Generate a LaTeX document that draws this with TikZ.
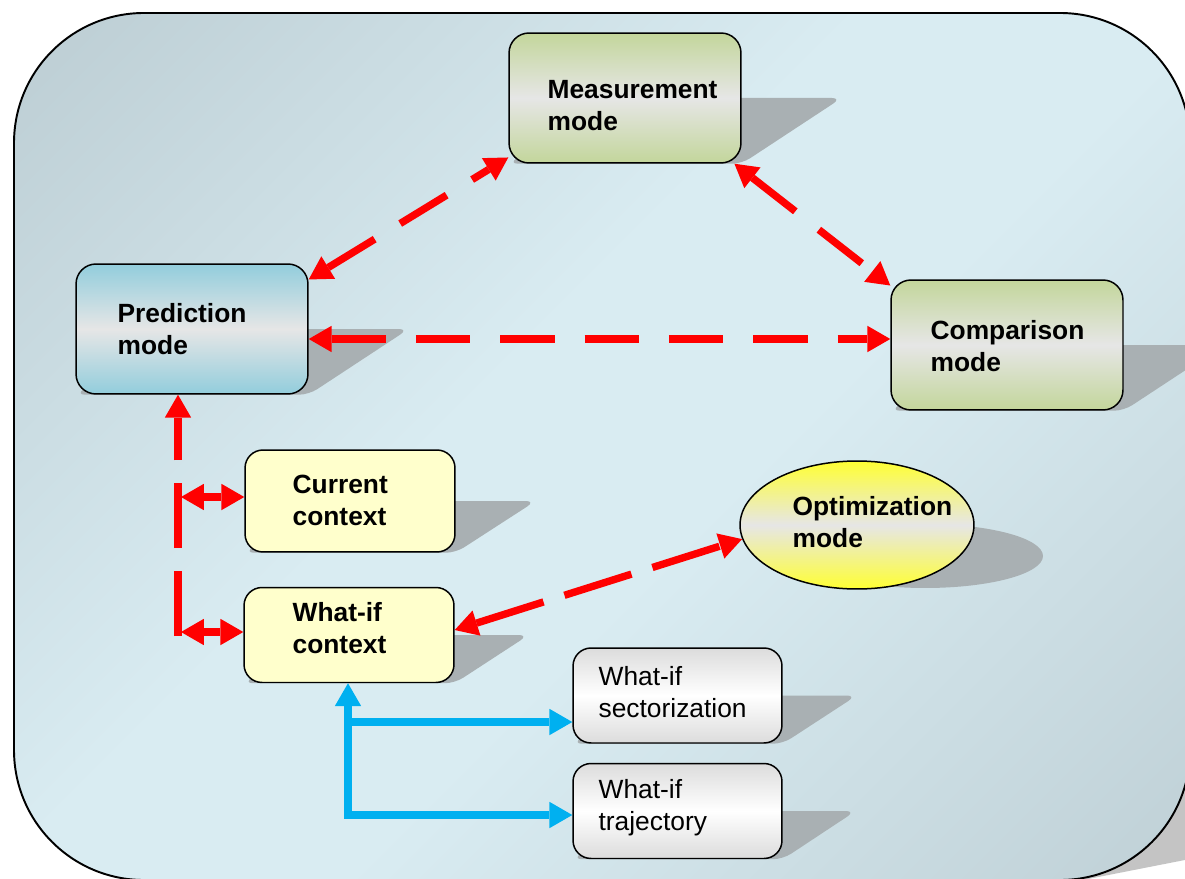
\documentclass[tikz,border=0pt]{standalone}
\usepackage{fontspec}
\setmainfont{Liberation Sans}
\usetikzlibrary{arrows.meta,shapes.geometric,calc}

\pgfdeclarelayer{panel}
\pgfdeclarelayer{shade}
\pgfsetlayers{panel,shade,main}

\definecolor{arrowred}{HTML}{FF0000}
\definecolor{arrowblue}{HTML}{00B0F0}
\definecolor{shadowgray}{RGB}{169,176,179}
\definecolor{framegray}{RGB}{196,196,196}
\definecolor{panelgray}{HTML}{BCCDD3}
\definecolor{panelgraylow}{HTML}{BFD0D6}
\definecolor{panellight}{HTML}{D9ECF2}
\definecolor{predblue}{HTML}{92CDDC}
\definecolor{modegreen}{HTML}{C3D69B}
\definecolor{midgray}{HTML}{E6E6E6}
\definecolor{ctxyellow}{HTML}{FFFFCC}
\definecolor{optyellow}{HTML}{FFFF33}
\definecolor{whatgray}{HTML}{DCDCDC}

% backdrop gradient: grey corners, wide light band along the other diagonal
\pgfdeclareverticalshading{panelshade}{100bp}{%
  color(0bp)=(panelgraylow); color(14.6bp)=(panelgraylow);
  color(44bp)=(panellight); color(56bp)=(panellight);
  color(85.4bp)=(panelgray); color(100bp)=(panelgray)}

% flattened, sheared drop shadow behind a box
\newcommand\castshadow[2]{%
  \fill[shadowgray, rounded corners=0.2cm]
    ($(#1.west)+(#2,0)$) -- ($(#1.east)+(#2,0)$) -- (#1.south east) -- (#1.south west) -- cycle;}

\tikzset{
  bigtri/.tip={Triangle[length=13pt,width=15pt,line width=0pt]},
  outline/.style={draw=black, line width=0.85pt, inner sep=0pt},
  modebox/.style={outline, rectangle, rounded corners=0.4cm, minimum width=4.64cm, minimum height=2.6cm},
  predfill/.style={top color=predblue, bottom color=predblue, middle color=midgray},
  greenfill/.style={top color=modegreen, bottom color=modegreen, middle color=midgray},
  ctxbox/.style={outline, rectangle, rounded corners=0.36cm, fill=ctxyellow, minimum width=4.2cm},
  subbox/.style={outline, rectangle, rounded corners=0.36cm, top color=whatgray, bottom color=whatgray, middle color=white, minimum width=4.18cm, minimum height=1.9cm},
  optbox/.style={outline, ellipse, minimum width=4.68cm, minimum height=2.56cm, top color=optyellow, bottom color=optyellow, middle color=midgray},
  boldlbl/.style={anchor=west, align=left, inner sep=0pt, font=\fontsize{15}{18.2}\selectfont\bfseries},
  plainlbl/.style={anchor=west, align=left, inner sep=0pt, font=\fontsize{15}{18.2}\selectfont},
  redlink/.style={draw=arrowred, line width=4.2pt, dash pattern=on 31pt off 17pt},
  redshort/.style={draw=arrowred, line width=4.2pt, bigtri-bigtri},
  bluelink/.style={draw=arrowblue, line width=4pt},
}

\begin{document}
\begin{tikzpicture}[x=0.02cm, y=-0.02cm]
\useasboundingbox (0,0) rectangle (1185,878);

% mode and context boxes
\node[modebox, greenfill] (meas) at (625,98) {};
\node[modebox, predfill] (pred) at (192,329) {};
\node[modebox, greenfill] (comp) at (1007,345) {};
\node[ctxbox, minimum height=2.04cm] (curr) at (350,501) {};
\node[ctxbox, minimum height=1.9cm] (wictx) at (349,635) {};
\node[optbox] (opt) at (857,525) {};
\node[subbox] (sect) at (677.5,695.5) {};
\node[subbox] (traj) at (677.5,811) {};

% labels
\node[boldlbl] (measlbl) at ($(meas.west)+(39,8)$) {Measurement\\mode};
\node[boldlbl] (predlbl) at ($(pred.west)+(42,0)$) {Prediction\\mode};
\node[boldlbl] (complbl) at ($(comp.west)+(40,1)$) {Comparison\\mode};
\node[boldlbl] (currlbl) at ($(curr.west)+(48,-1)$) {Current\\context};
\node[boldlbl] (wictxlbl) at ($(wictx.west)+(49,-7)$) {What-if\\context};
\node[boldlbl] (optlbl) at ($(opt.west)+(53,-3)$) {Optimization\\mode};
\node[plainlbl] (sectlbl) at ($(sect.west)+(26,-3)$) {What-if\\sectorization};
\node[plainlbl] (trajlbl) at ($(traj.west)+(26,-3)$) {What-if\\trajectory};

% shadows
\begin{pgfonlayer}{shade}
\begin{scope}
  \clip (0,0) rectangle (1185,878);
  \castshadow{meas}{100}
  \castshadow{pred}{100}
  \castshadow{comp}{100}
  \castshadow{curr}{80}
  \castshadow{wictx}{74}
  \castshadow{sect}{74}
  \castshadow{traj}{73}
  \fill[shadowgray] ($(opt.center)+(68,31)$) ellipse [x radius=2.36cm, y radius=0.64cm];
\end{scope}
\end{pgfonlayer}

% backdrop panel
\begin{pgfonlayer}{panel}
\begin{scope}
  \clip (0,0) rectangle (1185,878);
  \fill[framegray] (1100,700) -- (1195,700) -- (1195,858) -- (1083,880) -- cycle;
  \shadedraw[draw=black, line width=1.1pt, rounded corners=2.6cm,
        shading=panelshade, shading angle=45]
    (14,13) rectangle (1190,880);
\end{scope}
\end{pgfonlayer}

% red links between modes
\draw[redlink, bigtri-bigtri] (pred.23) -- (meas.207);
\draw[redlink, bigtri-bigtri] (meas.-31) -- (comp.153);
\draw[redlink, bigtri-bigtri] ($(pred.east)+(0,10)$) -- ($(comp.west)+(0,-6)$);
\draw[redlink, dash pattern=on 40pt off 12.5pt, bigtri-bigtri] ($(wictx.east)+(0,-5)$) -- (opt.187);

% red trunk from the contexts up to prediction
\coordinate (rbase) at (178,636);
\coordinate (ctap) at (181,497);
\coordinate (wtap) at (181,632);
\draw[redlink, dash pattern=on 37pt off 13pt, -bigtri] (rbase) -- (rbase |- pred.south);
\draw[redshort] (ctap) -- (ctap -| curr.west);
\draw[redshort] (wtap) -- (wtap -| wictx.west);

% blue what-if branches
\coordinate (bbase) at (348,815);
\coordinate (btap) at (348,722);
\draw[bluelink, bigtri-bigtri] (wictx.south -| bbase) -- (bbase) -- (bbase -| traj.west);
\draw[bluelink, -bigtri] (btap) -- (btap -| sect.west);
\end{tikzpicture}
\end{document}
